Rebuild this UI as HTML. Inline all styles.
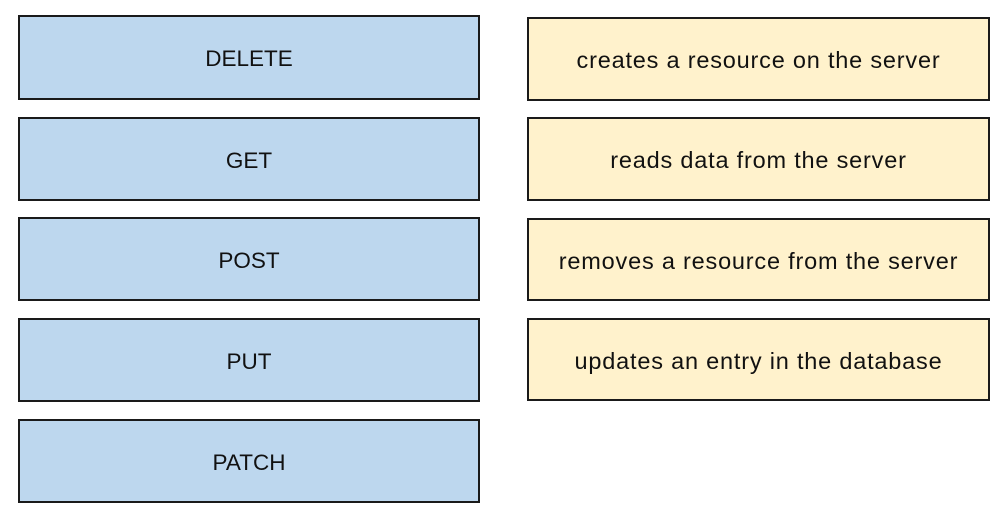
<!DOCTYPE html>
<html><head><style>
body{margin:0;width:1000px;height:513px;background:#fff;position:relative;font-family:"Liberation Sans",sans-serif;}
.b{position:absolute;box-sizing:border-box;border:2px solid #1a1a1a;display:flex;align-items:center;justify-content:center;font-size:23.5px;letter-spacing:0.8px;color:#111;padding-top:3px;}
.l{left:18px;width:462px;background:#bdd7ee;font-size:22.5px;letter-spacing:0;}
.r{left:527px;width:463px;background:#fff2cc;}
</style></head><body>
<div class="b l" style="top:15px;height:85px">DELETE</div>
<div class="b l" style="top:117px;height:84px">GET</div>
<div class="b l" style="top:217px;height:84px">POST</div>
<div class="b l" style="top:318px;height:84px">PUT</div>
<div class="b l" style="top:419px;height:84px">PATCH</div>
<div class="b r" style="top:17px;height:84px">creates a resource on the server</div>
<div class="b r" style="top:117px;height:84px">reads data from the server</div>
<div class="b r" style="top:218px;height:83px">removes a resource from the server</div>
<div class="b r" style="top:318px;height:83px">updates an entry in the database</div>
</body></html>
